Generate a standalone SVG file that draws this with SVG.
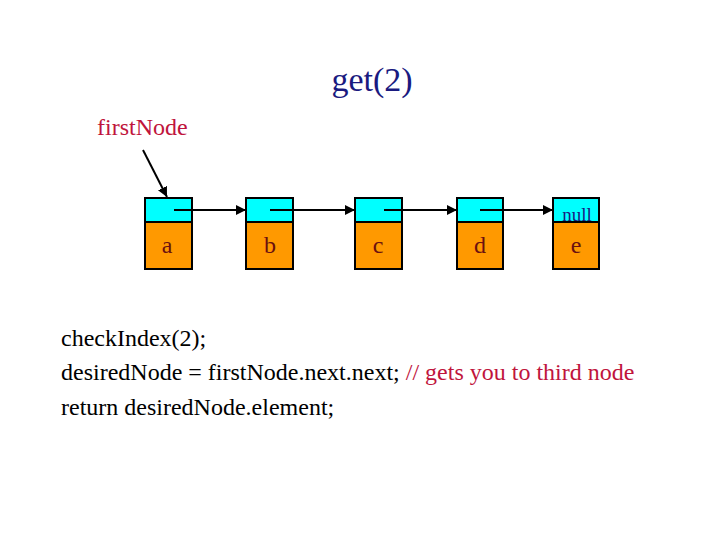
<svg xmlns="http://www.w3.org/2000/svg" width="720" height="540" viewBox="0 0 720 540">
<defs>
<style>
.t{font-family:"Liberation Serif","Times New Roman",serif;}
.cell-top{fill:#00ffff;stroke:#000;stroke-width:2;}
.cell-bot{fill:#ff9900;stroke:#000;stroke-width:2;}
.lbl{font-family:"Liberation Serif","Times New Roman",serif;font-size:24px;fill:#6a1010;text-anchor:middle;}
.link{stroke:#000;stroke-width:2;fill:none;marker-end:url(#ah);}
.code{font-family:"Liberation Serif","Times New Roman",serif;font-size:24px;fill:#000;}
</style>
<marker id="ah" viewBox="0 0 10 10" refX="10" refY="5" markerWidth="5" markerHeight="5" orient="auto" markerUnits="strokeWidth">
<path d="M0,0 L10,5 L0,10 z" fill="#000"/>
</marker>
</defs>
<rect width="720" height="540" fill="#fff"/>
<text class="t" x="372" y="91" font-size="34" fill="#1a1a80" text-anchor="middle">get(2)</text>
<text class="t" x="97" y="135" font-size="24" fill="#c0143c">firstNode</text>
<g id="node-a"><rect class="cell-top" x="145" y="198" width="47" height="24"/><rect class="cell-bot" x="145" y="222" width="47" height="47"/><text class="lbl" x="167" y="253">a</text></g>
<g id="node-b"><rect class="cell-top" x="246" y="198" width="47" height="24"/><rect class="cell-bot" x="246" y="222" width="47" height="47"/><text class="lbl" x="270" y="253">b</text></g>
<g id="node-c"><rect class="cell-top" x="355" y="198" width="47" height="24"/><rect class="cell-bot" x="355" y="222" width="47" height="47"/><text class="lbl" x="378" y="253">c</text></g>
<g id="node-d"><rect class="cell-top" x="457" y="198" width="46" height="24"/><rect class="cell-bot" x="457" y="222" width="46" height="47"/><text class="lbl" x="480" y="253">d</text></g>
<g id="node-e"><rect class="cell-top" x="553" y="198" width="46" height="24"/><rect class="cell-bot" x="553" y="222" width="46" height="47"/><text class="lbl" x="576" y="253">e</text><text class="t" x="577" y="221" font-size="19" fill="#1a1a80" text-anchor="middle">null</text></g>
<g id="connectors">
<line class="link" x1="143" y1="150" x2="167" y2="197"/>
<line class="link" x1="174" y1="210" x2="246" y2="210"/>
<line class="link" x1="270" y1="210" x2="355" y2="210"/>
<line class="link" x1="384" y1="210" x2="457" y2="210"/>
<line class="link" x1="480" y1="210" x2="553" y2="210"/>
</g>
<text class="code" x="61" y="346">checkIndex(2);</text>
<text class="code" x="61" y="380">desiredNode = firstNode.next.next; <tspan fill="#c0143c">// gets you to third node</tspan></text>
<text class="code" x="61" y="415">return desiredNode.element;</text>
</svg>
